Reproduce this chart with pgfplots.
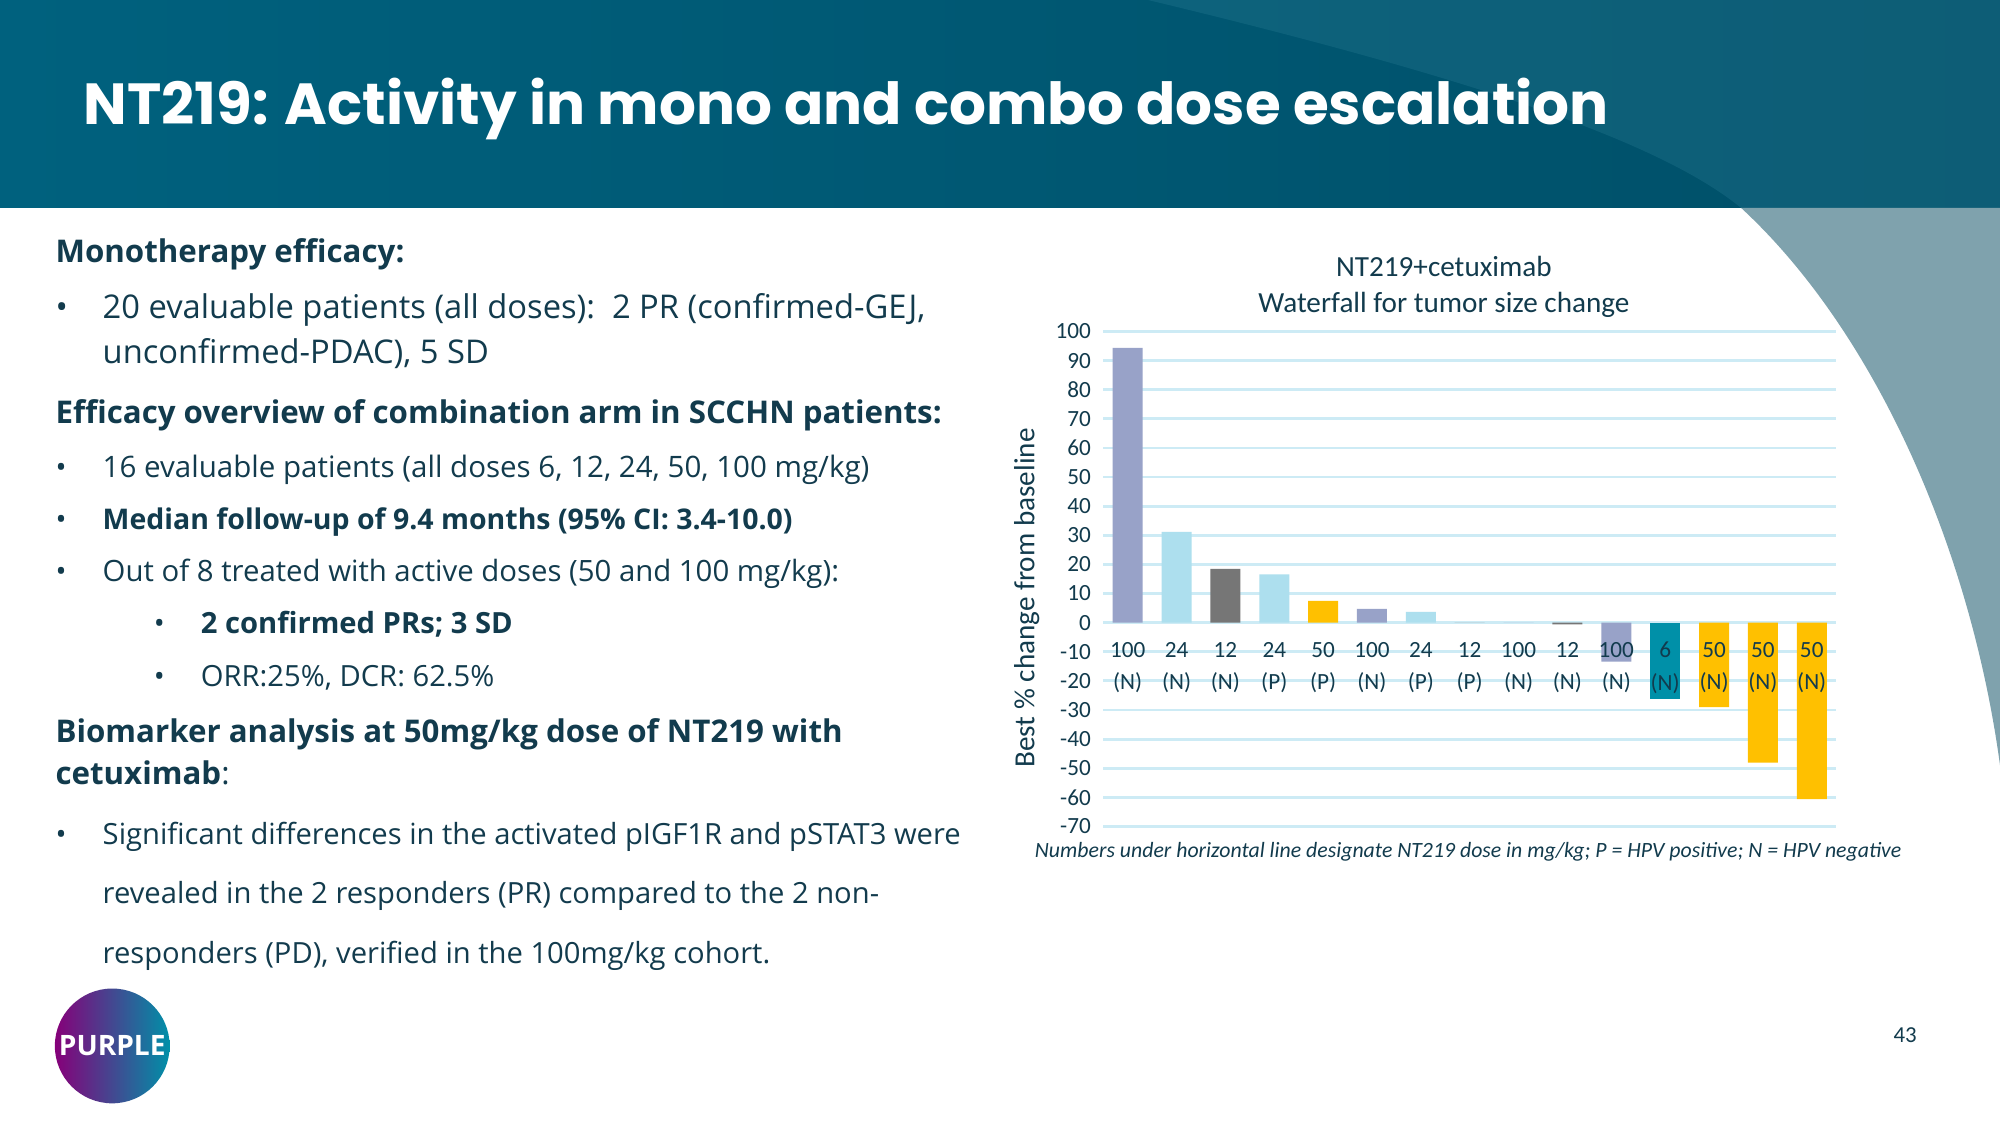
\documentclass[border=0pt]{standalone}
\usepackage{pgfplots}
\pgfplotsset{compat=1.18}
\usepackage{fontspec}
\setmainfont{Open Sans}
\newfontfamily\titlefont{Poppins}
\newfontfamily\cfont{Carlito}
\definecolor{hdr}{HTML}{00617E}
\definecolor{hdrb}{HTML}{004F68}
\definecolor{txt}{HTML}{123B4D}
\definecolor{lav}{HTML}{98A2C8}
\definecolor{lbl}{HTML}{ADDFEE}
\definecolor{gry}{HTML}{767676}
\definecolor{yel}{HTML}{FFC000}
\definecolor{tea}{HTML}{0090A8}
\definecolor{grd}{HTML}{CDEBF5}
\definecolor{wedge}{HTML}{7FA2AD}
\begin{document}
\begin{tikzpicture}
\begin{scope}[x=0.012755cm,y=-0.012755cm]
\path[use as bounding box] (0,0) rectangle (1568,882);
\fill[white] (0,0) rectangle (1568,882);
\shade[left color=hdr,right color=hdrb] (0,0) rectangle (1568,163);
\fill[hdr!85!white,opacity=0.35] (900,0) .. controls (1150,60) and (1300,110) .. (1365,163) -- (1568,163) -- (1568,0) -- cycle;
\fill[wedge] (1365,163) .. controls (1470,260) and (1545,430) .. (1568,600) -- (1568,163) -- cycle;
\node[inner sep=0,anchor=base west,text=white,font=\titlefont\bfseries\fontsize{16.5}{18}\selectfont] at (65,98) {NT219: Activity in mono and combo dose escalation};
\begin{scope}[every node/.style={inner sep=0,anchor=base west,text=txt,font=\fontsize{8.3}{10}\selectfont}]
\node[font=\bfseries\fontsize{8.9}{10}\selectfont] at (43,206) {Monotherapy efficacy:};
\node[font=\fontsize{9.3}{10}\selectfont] at (43,250) {•}; \node[font=\fontsize{9.3}{10}\selectfont] at (80,250) {20 evaluable patients (all doses):\ \ 2 PR (confirmed-GEJ,};
\node[font=\fontsize{9.3}{10}\selectfont] at (80,285) {unconfirmed-PDAC), 5 SD};
\node[font=\bfseries\fontsize{8.9}{10}\selectfont] at (43,332) {Efficacy overview of combination arm in SCCHN patients:};
\node at (43,374) {•}; \node[font=\fontsize{8.4}{10}\selectfont] at (80,374) {16 evaluable patients (all doses 6, 12, 24, 50, 100 mg/kg)};
\node at (43,415) {•}; \node[font=\bfseries\fontsize{8.1}{10}\selectfont] at (80,415) {Median follow-up of 9.4 months (95\% CI: 3.4-10.0)};
\node at (43,456) {•}; \node[font=\fontsize{8.35}{10}\selectfont] at (80,456) {Out of 8 treated with active doses (50 and 100 mg/kg):};
\node at (120,497) {•}; \node[font=\bfseries\fontsize{8.3}{10}\selectfont] at (157,497) {2 confirmed PRs; 3 SD};
\node at (120,538) {•}; \node at (157,538) {ORR:25\%, DCR: 62.5\%};
\node[font=\bfseries\fontsize{8.9}{10}\selectfont] at (43,582) {Biomarker analysis at 50mg/kg dose of NT219 with};
\node[font=\fontsize{8.9}{10}\selectfont] at (43,615) {{\bfseries cetuximab}:};
\node at (43,662) {•}; \node at (80,662) {Significant differences in the activated pIGF1R and pSTAT3 were};
\node at (80,708) {revealed in the 2 responders (PR) compared to the 2 non-};
\node at (80,755) {responders (PD), verified in the 100mg/kg cohort.};
\node[font=\cfont\fontsize{6.5}{8}\selectfont] at (1484,817) {43};
\end{scope}
\shade[left color=purple!70!blue,right color=tea] (88,820) circle (45);
\node[text=white,font=\bfseries\fontsize{8}{9}\selectfont] at (88,820) {PURPLE};
\node[text=txt,align=center,font=\cfont\fontsize{8.3}{10.1}\selectfont] at (1132,225) {NT219+cetuximab\\Waterfall for tumor size change};
\node[text=txt,font=\cfont\itshape\fontsize{6.2}{7}\selectfont] at (1151,668) {Numbers under horizontal line designate NT219 dose in mg/kg; P = HPV positive; N = HPV negative};
\end{scope}
\begin{axis}[at={(11.033cm,-8.265cm)},anchor=south west,scale only axis,
  width=7.33cm,height=4.95cm,
  ymin=-70,ymax=100,ytick={-70,-60,...,100},
  xmin=-0.5,xmax=14.5,
  axis x line=middle, axis y line=left,
  x axis line style={draw=grd,line width=0.8pt,-},
  y axis line style={draw=none},
  ymajorgrids, grid style={grd,line width=0.8pt},
  major tick length=0pt,
  xtick=\empty,
  yticklabel style={font=\cfont\fontsize{6.6}{7}\selectfont,text=txt},
  /pgf/number format/assume math mode=true,
  ylabel={Best \% change from baseline},
  ylabel style={font=\cfont\fontsize{8.3}{9}\selectfont,text=txt,yshift=-0.08cm,xshift=-0.19cm},
  ybar, bar width=0.30cm, bar shift=0pt,
  clip=false]
\addplot[draw=none,fill=lav] coordinates {(0,94.4) (5,4.7) (8,0) (10,-13.4)};
\addplot[draw=none,fill=lbl] coordinates {(1,31.2) (3,16.6) (6,3.7)};
\addplot[draw=none,fill=gry] coordinates {(2,18.5) (7,0) (9,-0.6)};
\addplot[draw=none,fill=yel] coordinates {(4,7.5) (12,-29) (13,-48.1) (14,-60.6)};
\addplot[draw=none,fill=tea] coordinates {(11,-26.2)};
\foreach \d/\h [count=\i from 0] in {100/N,24/N,12/N,24/P,50/P,100/N,24/P,12/P,100/N,12/N,100/N,6/N,50/N,50/N,50/N}{
  \edef\tmp{\noexpand\node[text=txt,align=center,font=\noexpand\cfont\noexpand\fontsize{6.6}{9.2}\noexpand\selectfont] at (axis cs:\i,-15.5) {\d\noexpand\\(\h)};}\tmp
}
\end{axis}
\end{tikzpicture}
\end{document}
